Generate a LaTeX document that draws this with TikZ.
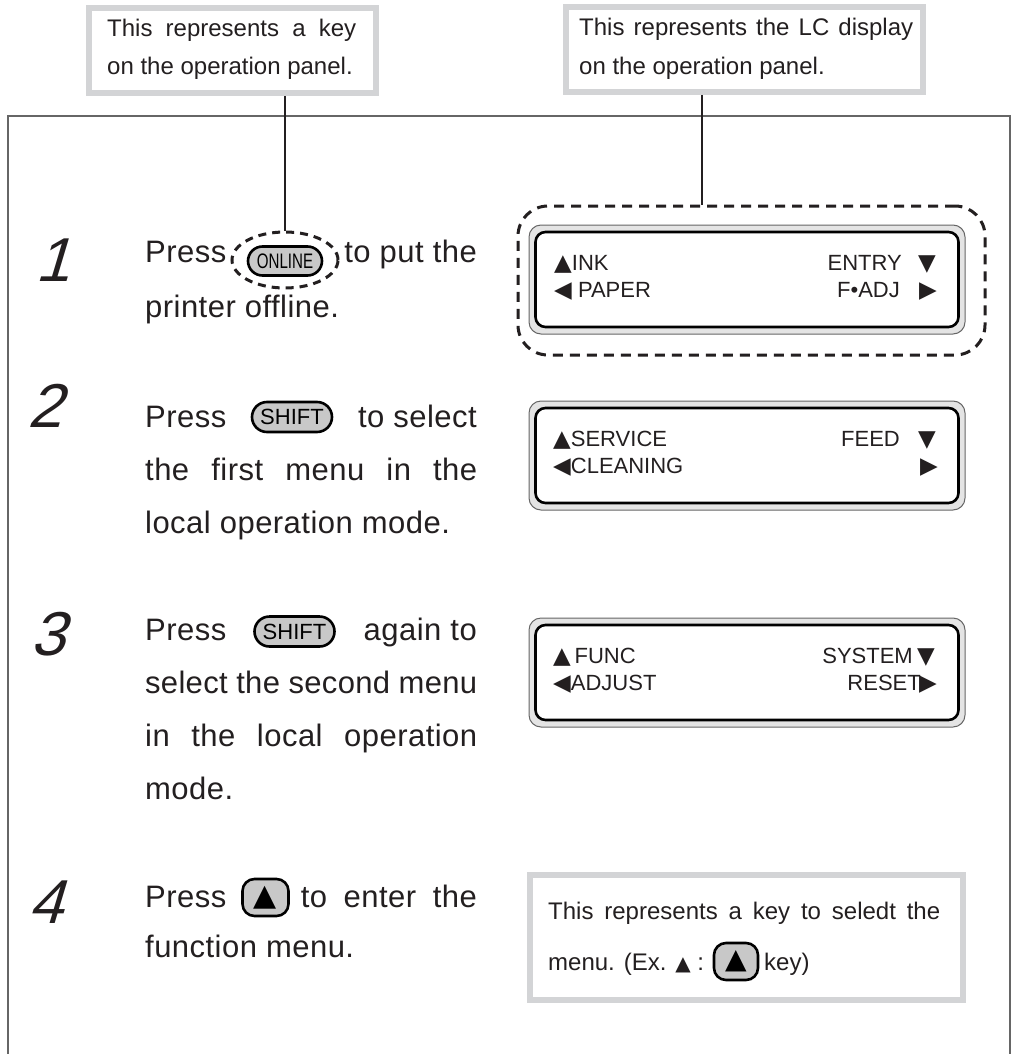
\documentclass[tikz,border=0pt]{standalone}
\usepackage{graphicx}
\usepackage{fontspec}
\setmainfont{Liberation Sans}
\newfontfamily\sym{DejaVu Sans}
\newfontfamily\stepfont[LetterSpace=1.5]{Liberation Sans}
\newfontfamily\stepfontb[LetterSpace=1.0]{Liberation Sans}
\newfontfamily\numfont[FakeSlant=0.3]{Liberation Sans}
\usetikzlibrary{shapes.geometric}
\definecolor{ink}{HTML}{231F20}
\definecolor{boxgray}{HTML}{D3D4D6}
\definecolor{keygray}{HTML}{C8C8C8}
\definecolor{lcdgray}{HTML}{E4E4E4}
\newcommand\trUp{{\sym\fontsize{23}{23}\selectfont ▲}}
\newcommand\trDn{{\sym\fontsize{23}{23}\selectfont ▼}}
\newcommand\trLf{{\sym\fontsize{23}{23}\selectfont ◀}}
\newcommand\trRt{{\sym\fontsize{23}{23}\selectfont ▶}}
\tikzset{
  callout/.style={draw=boxgray, line width=6pt, fill=white, inner sep=0pt, rectangle},
  calltext/.style={font=\fontsize{24}{24}\selectfont, text=ink, inner sep=0pt, anchor=base west},
  steptext/.style={font=\stepfont\fontsize{31}{31}\selectfont, text=ink, inner sep=0pt, anchor=base west},
  stepend/.style={steptext, anchor=base east},
  stepnum/.style={font=\numfont\fontsize{62}{62}\selectfont, text=ink, inner sep=0pt, anchor=base west},
  pillkey/.style={draw=black, line width=2.6pt, fill=keygray, inner sep=0pt, text=black},
  lcdouter/.style={draw=black!60, line width=1pt, fill=lcdgray, rounded corners=12pt, minimum width=436pt, minimum height=109pt, inner sep=0pt},
  lcdinner/.style={draw=black, line width=2.6pt, fill=white, rounded corners=10pt, minimum width=423pt, minimum height=95pt, inner sep=0pt},
  lcdtext/.style={font=\fontsize{22}{22}\selectfont, text=ink, inner sep=0pt, anchor=base west},
  lcdright/.style={lcdtext, anchor=base east},
  frameline/.style={draw=black!60, line width=1.3pt},
  link/.style={draw=ink, line width=2pt},
  dashsel/.style={draw=ink, line width=3pt, dash pattern=on 10pt off 7pt}
}
\begin{document}
\begin{tikzpicture}[x=1pt,y=-1pt]
\useasboundingbox (0,0) rectangle (1013,1054);
\fill[white] (0,0) rectangle (1013,1054);

% outer frame
\draw[frameline] (8,1054) -- (8,116) -- (1010,116) -- (1010,1054);

% callout boxes
\node[callout, minimum width=287pt, minimum height=85pt] (box1) at (232.5,50.5) {};
\node[calltext] (box1a) at (107,37) {\makebox[249pt][s]{This represents a key}};
\node[calltext] (box1b) at (107,75) {on the operation panel.};
\node[callout, minimum width=357pt, minimum height=85pt] (box2) at (744.5,49.5) {};
\node[calltext] (box2a) at (579,36) {\makebox[334pt][s]{This represents the LC display}};
\node[calltext] (box2b) at (579,75) {on the operation panel.};

% step numbers
\node[stepnum] (n1) at (35,281) {1};
\node[stepnum] (n2) at (27,427) {2};
\node[stepnum] (n3) at (30,655) {3};
\node[stepnum] (n4) at (28,923) {4};

% step 1
\node[steptext] (s1p) at (145,262) {Press};
\node[draw=ink, line width=3pt, dash pattern=on 8pt off 6pt, ellipse, minimum width=106pt, minimum height=56pt, inner sep=0pt] (onsel) at (285,260) {};
\node[pillkey, minimum width=74pt, minimum height=29pt, rounded corners=14.5pt] (onkey) at (285,261) {\fontsize{21}{21}\selectfont\scalebox{0.72}[1]{ONLINE}};
\node[stepend] (s1r) at (477,262) {to put the};
\node[steptext] (s1b) at (145,317) {printer offline.};

% step 2
\node[steptext] (s2p) at (145,427) {Press};
\node[pillkey, minimum width=80pt, minimum height=30pt, rounded corners=15pt] (shift1) at (292,417) {\fontsize{22}{22}\selectfont SHIFT};
\node[stepend] (s2r) at (477,427) {to select};
\node[steptext] (s2b) at (145,480) {\makebox[332pt][s]{the first menu in the}};
\node[steptext] (s2c) at (145,533) {local operation mode.};

% step 3
\node[steptext] (s3p) at (145,640) {Press};
\node[pillkey, minimum width=80pt, minimum height=30pt, rounded corners=15pt] (shift2) at (294.5,631.5) {\fontsize{22}{22}\selectfont SHIFT};
\node[stepend] (s3r) at (477,640) {again to};
\node[steptext, font=\stepfontb\fontsize{31}{31}\selectfont] (s3b) at (145,693) {\makebox[332pt][s]{select the second menu}};
\node[steptext] (s3c) at (145,746) {\makebox[332pt][s]{in the local operation}};
\node[steptext] (s3d) at (145,799) {mode.};

% step 4
\node[steptext] (s4p) at (145,907) {Press};
\node[pillkey, minimum width=46pt, minimum height=37pt, rounded corners=12pt] (upkey) at (265.5,897.5) {\sym\fontsize{30}{30}\selectfont ▲};
\node[stepend] (s4r) at (477,907) {\makebox[176pt][s]{to enter the}};
\node[steptext] (s4b) at (145,957) {function menu.};

% LCD 1 with dashed selection
\node[dashsel, rectangle, rounded corners=30pt, minimum width=467pt, minimum height=149pt, inner sep=0pt] (lcdsel) at (751.5,280.5) {};
\node[lcdouter] (lcd1) at (747,279.5) {};
\node[lcdinner] (lcd1i) at (lcd1.center) {};
\node[lcdtext] (l1a) at (554,270) {\trUp INK};
\node[lcdtext] (l1b) at (554,297) {\trLf\ PAPER};
\node[lcdright] (l1c) at (902,270) {ENTRY};
\node[lcdtext] (l1d) at (918,270) {\trDn};
\node[lcdright] (l1e) at (900,297) {F•ADJ};
\node[lcdtext] (l1f) at (919,297) {\trRt};

% LCD 2
\node[lcdouter] (lcd2) at (747,455.5) {};
\node[lcdinner] (lcd2i) at (lcd2.center) {};
\node[lcdtext] (l2a) at (553,446) {\trUp SERVICE};
\node[lcdtext] (l2b) at (553,473) {\trLf CLEANING};
\node[lcdright] (l2c) at (900,446) {FEED};
\node[lcdtext] (l2d) at (918,446) {\trDn};
\node[lcdtext] (l2f) at (920,473) {\trRt};

% LCD 3
\node[lcdouter] (lcd3) at (747,672.5) {};
\node[lcdinner] (lcd3i) at (lcd3.center) {};
\node[lcdtext] (l3a) at (553,663) {\trUp\,FUNC};
\node[lcdtext] (l3b) at (553,690) {\trLf ADJUST};
\node[lcdright] (l3c) at (913,663) {SYSTEM};
\node[lcdtext] (l3d) at (917,663) {\trDn};
\node[lcdright] (l3e) at (921,690) {RESET};
\node[lcdtext] (l3f) at (919,690) {\trRt};

% bottom callout
\node[callout, minimum width=433pt, minimum height=125pt] (box3) at (746.5,937.5) {};
\node[calltext] (box3a) at (548,919) {\makebox[392pt][s]{This represents a key to seledt the}};
\node[calltext] (box3b) at (548,970) {menu. (Ex. {\sym\fontsize{20}{20}\selectfont ▲} :};
\node[pillkey, minimum width=44pt, minimum height=37pt, rounded corners=12pt] (bkey) at (736,961.5) {\sym\fontsize{28}{28}\selectfont ▲};
\node[calltext] (box3c) at (764,970) {key)};

% connectors
\coordinate (c2x) at (702,0);
\draw[link] (onsel.north |- box1.south) -- (onsel.north);
\draw[link] (c2x |- box2.south) -- (c2x |- lcdsel.north);
\end{tikzpicture}
\end{document}
